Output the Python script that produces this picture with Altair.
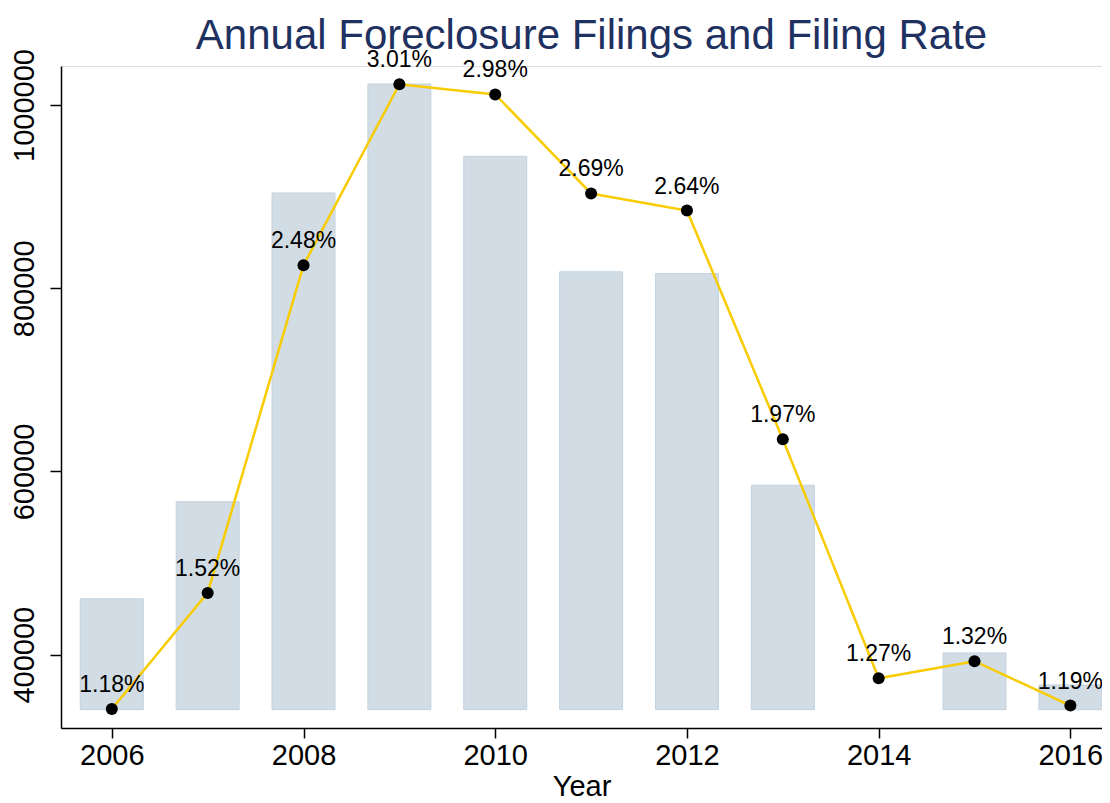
import altair as alt
import pandas as pd

years = [2006, 2007, 2008, 2009, 2010, 2011, 2012, 2013, 2014, 2015, 2016]
filings = [461000, 567000, 904000, 1023000, 944000, 818000, 816000, 585000, None, 402000, 367000]
rates = [1.18, 1.52, 2.48, 3.01, 2.98, 2.69, 2.64, 1.97, 1.27, 1.32, 1.19]
rate_labels = ["1.18%", "1.52%", "2.48%", "3.01%", "2.98%", "2.69%", "2.64%", "1.97%", "1.27%", "1.32%", "1.19%"]
x_ticks = [2006, 2008, 2010, 2012, 2014, 2016]
y_ticks = [400000, 600000, 800000, 1000000]
bar_base = 340000

df = pd.DataFrame({"Year": years, "Filings": filings, "Rate": rates, "Label": rate_labels})

FONT = "Liberation Sans"
xscale = alt.Scale(domain=[2005.47, 2016.33], nice=False, zero=False, padding=0)

x_enc = alt.X("Year:Q", scale=xscale,
              axis=alt.Axis(values=x_ticks, format="d", title="Year", grid=False,
                            labelFontSize=29, titleFontSize=29, tickSize=10,
                            labelPadding=3, titlePadding=2, labelFont=FONT, titleFont=FONT,
                            titleFontWeight="normal", labelColor="black", titleColor="black",
                            domainColor="black", tickColor="black", domainWidth=1.5, tickWidth=1.5))

bars = alt.Chart(df).transform_filter("datum.Filings != null").mark_bar(
    size=63, color="#d1dce5", stroke="#c4d3df", strokeWidth=1
).encode(
    x=x_enc,
    y=alt.Y("Filings:Q", scale=alt.Scale(domain=[320000, 1042600], nice=False, zero=False, padding=0),
            axis=alt.Axis(values=y_ticks, format="d", title=None, grid=False,
                          labelFontSize=29, labelFont=FONT, labelAngle=-90, labelAlign="center",
                          labelBaseline="bottom", labelPadding=11, tickSize=11, labelColor="black",
                          domainColor="black", tickColor="black", domainWidth=1.5, tickWidth=1.5)),
    y2=alt.datum(bar_base),
)

rscale = alt.Scale(domain=[1.1243, 3.0634], nice=False, zero=False)

line = alt.Chart(df).mark_line(color="#f8cc00", strokeWidth=2.5).encode(
    x=alt.X("Year:Q", scale=xscale),
    y=alt.Y("Rate:Q", scale=rscale, axis=None),
)
pts = alt.Chart(df).mark_point(filled=True, color="black", size=145, opacity=1).encode(
    x=alt.X("Year:Q", scale=xscale),
    y=alt.Y("Rate:Q", scale=rscale, axis=None),
)
txt = alt.Chart(df).mark_text(font=FONT, fontSize=23, color="black", dy=-17, baseline="alphabetic").encode(
    x=alt.X("Year:Q", scale=xscale),
    y=alt.Y("Rate:Q", scale=rscale, axis=None),
    text="Label:N",
)

rate_layer = alt.layer(line, pts, txt)

chart = alt.layer(bars, rate_layer).resolve_scale(y="independent").properties(
    width=1041, height=662,
    title=alt.Title("Annual Foreclosure Filings and Filing Rate", fontSize=42, font=FONT,
                    fontWeight="normal", color="#1f3160", anchor="middle", offset=18, dy=27, dx=10),
    autosize=alt.AutoSizeParams(type="none"),
    padding={"left": 53, "top": 58, "right": 0, "bottom": 74},
).configure_view(stroke=None).configure(background="white")

chart.save("out.html", embed_options={"renderer": "svg", "actions": False})
